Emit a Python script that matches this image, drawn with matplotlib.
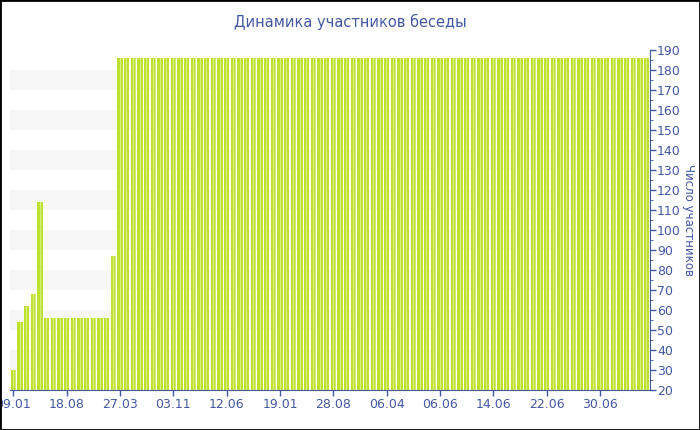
import numpy as np
import matplotlib.pyplot as plt
from matplotlib.patches import Rectangle
from matplotlib.ticker import MultipleLocator

# values
early = [30, 54, 62, 68, 114, 56, 56, 56, 56, 56, 56, 56, 56, 56, 56, 87]
plateau = 186
n_plateau = 80
values = early + [plateau] * n_plateau

tick_labels = ['09.01', '18.08', '27.03', '03.11', '12.06', '19.01',
               '28.08', '06.04', '06.06', '14.06', '22.06', '30.06']
tick_step = 8

title = 'Динамика участников беседы'
ylabel = 'Число участников'

blue = '#4358a3'
green = '#bde12d'
light = '#d8ee86'

fig = plt.figure(figsize=(7, 4.3), dpi=100)
ax = fig.add_axes([10/700, 1 - 390/430, 640/700, 340/430])

x = np.arange(len(values))
# grey bands
for lo in range(30, 190, 20):
	ax.axhspan(lo, lo + 10, color='#f7f7f7', zorder=0, lw=0)

ax.bar(x, np.array(values) - 20, bottom=20, width=0.78, color=green, zorder=2)
# light stripe inside every bar
ax.bar(x + 0.02, np.array(values) - 20, bottom=20, width=0.12, color=light, zorder=3)
ax.bar(x + 0.33, np.array(values) - 20, bottom=20, width=0.08, color='#d3eb7a', zorder=3)

ax.set_xlim(-0.5, len(values) - 0.5)
ax.set_ylim(20, 190)

ax.set_xticks(x[::tick_step])
ax.set_xticklabels(tick_labels)
ax.yaxis.tick_right()
ax.yaxis.set_label_position('right')
ax.yaxis.set_major_locator(MultipleLocator(10))
ax.yaxis.set_minor_locator(MultipleLocator(5))

ax.tick_params(axis='both', colors=blue, labelsize=9, length=4, width=1)
ax.tick_params(axis='y', which='minor', colors=blue, length=2)
ax.tick_params(axis='x', pad=2)
ax.tick_params(axis='y', pad=1)

for s in ['left', 'top']:
	ax.spines[s].set_visible(False)
for s in ['right', 'bottom']:
	ax.spines[s].set_color(blue)

ax.set_ylabel(ylabel, color=blue, fontsize=8.5, rotation=270, va='center')
ax.yaxis.set_label_coords((688 - 10) / 640, 0.5)
fig.text(350/700, 1 - 22/430, title, color=blue, fontsize=10.5,
	ha='center', va='center')

# black frame around the picture
fig.patches.append(Rectangle((0, 0), 1, 1, transform=fig.transFigure,
	fill=False, edgecolor='black', lw=2))

fig.savefig('out.png', dpi=100)
